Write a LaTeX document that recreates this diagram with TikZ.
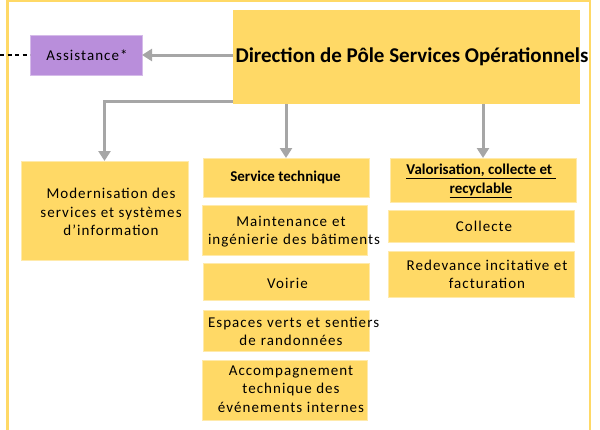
\documentclass[tikz,border=0pt]{standalone}
\usepackage{fontspec}
\setmainfont{Carlito}
\newfontfamily\spc[LetterSpace=7]{Carlito}
\usetikzlibrary{arrows.meta}
\definecolor{boxy}{HTML}{FFD966}
\definecolor{purp}{HTML}{B98EDB}
\definecolor{arrg}{HTML}{A6A6A6}
\tikzset{
  box/.style={fill=boxy, draw=boxy!55!white, line width=0.6pt, inner sep=0pt, outer sep=0pt},
  txt/.style={inner sep=0pt, align=center, font=\spc\fontsize{15}{18.5}\selectfont},
  btxt/.style={inner sep=0pt, align=center, font=\bfseries\fontsize{15}{18.5}\selectfont},
  arr/.style={draw=arrg, line width=3pt, -{Triangle[width=12pt,length=10pt]}},
}
\begin{document}
\begin{tikzpicture}[x=1pt,y=-1pt]
\useasboundingbox (0,0) rectangle (600,429);
% outer frame
\draw[boxy, line width=2.5pt] (7.5,450) -- (7.5,1) -- (590,1) -- (590,450);
% boxes
\node[box, draw=none, minimum width=347pt, minimum height=94pt] (dir) at (406.5,57) {};
\node[box, fill=purp, draw=purp!60!white, minimum width=112pt, minimum height=40pt] (asst) at (86,55) {};
\node[box, minimum width=167pt, minimum height=99pt] (mod) at (104.5,210.5) {};
\node[box, minimum width=166pt, minimum height=39pt] (st) at (286,177.5) {};
\node[box, minimum width=165pt, minimum height=50pt] (maint) at (284.5,230) {};
\node[box, minimum width=166pt, minimum height=37pt] (voir) at (286,281.5) {};
\node[box, minimum width=166pt, minimum height=41pt] (esp) at (286,330.5) {};
\node[box, minimum width=165pt, minimum height=60pt] (acc) at (284.5,390) {};
\node[box, minimum width=186pt, minimum height=44pt] (val) at (483,180) {};
\node[box, minimum width=186pt, minimum height=32pt] (coll) at (481,226) {};
\node[box, minimum width=186pt, minimum height=46pt] (red) at (481,274) {};
% texts
\node[inner sep=0pt, font=\bfseries\fontsize{21}{25}\selectfont] (tdir) at (412,57) {Direction de Pôle Services Opérationnels};
\node[txt] (tasst) at (87,55) {Assistance*};
\node[txt] (tmod) at (111,212) {Modernisation des\\services et systèmes\\d’information};
\node[btxt] (tst) at (285.5,177) {Service technique};
\node[txt, text width=166pt] (tmaint) at (291,231.5) {Maintenance et\\\mbox{ingénierie des bâtiments}};
\node[txt] (tvoir) at (287.5,283) {Voirie};
\node[txt, text width=166pt] (tesp) at (291,331.5) {\mbox{Espaces verts et sentiers}\\de randonnées};
\node[txt] (tacc) at (291,389) {Accompagnement\\technique des\\événements internes};
\node[btxt] (tval) at (481,181) {\underline{Valorisation, collecte et\ }\\\underline{recyclable}};
\node[txt] (tcoll) at (484,226) {Collecte};
\node[txt] (tred) at (487,274.5) {Redevance incitative et\\facturation};
% connectors
\coordinate (dl) at (0,55);
\draw[black, line width=1.2pt, dash pattern=on 4pt off 3.5pt] (dl) -- (asst.west);
\draw[arr] (dir.west |- asst.east) -- (asst.east);
\draw[arr] ([yshift=3pt]dir.south west) -| (mod.north);
\draw[arr] (dir.south -| st.north) -- (st.north);
\draw[arr] (dir.south -| val.north) -- (val.north);
\end{tikzpicture}
\end{document}
